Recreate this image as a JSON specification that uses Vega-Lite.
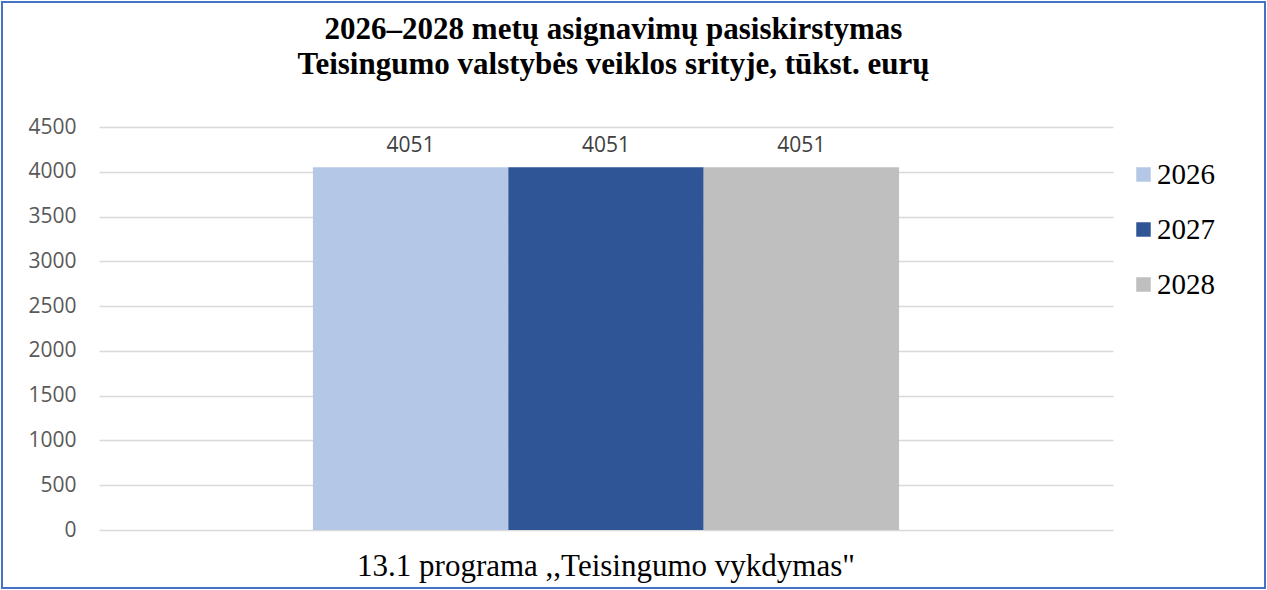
{
  "$schema": "https://vega.github.io/schema/vega-lite/v6.json",
  "width": 1263,
  "height": 586,
  "padding": 2,
  "autosize": {"type": "none"},
  "background": "white",
  "title": {
    "text": ["2026–2028 metų asignavimų pasiskirstymas", "Teisingumo valstybės veiklos srityje, tūkst. eurų"],
    "font": "Liberation Serif",
    "fontSize": 31,
    "fontWeight": "bold",
    "color": "#000000",
    "anchor": "middle",
    "frame": "group",
    "baseline": "top",
    "lineHeight": 35,
    "offset": -79,
    "dx": -20
  },
  "data": {
    "values": [
      {"programa": "13.1 programa ,,Teisingumo vykdymas\"", "metai": "2026", "suma": 4051},
      {"programa": "13.1 programa ,,Teisingumo vykdymas\"", "metai": "2027", "suma": 4051},
      {"programa": "13.1 programa ,,Teisingumo vykdymas\"", "metai": "2028", "suma": 4051}
    ]
  },
  "encoding": {
    "x": {
      "field": "programa",
      "type": "nominal",
      "scale": {"range": [97, 1111], "paddingInner": 0, "paddingOuter": 0.365},
      "axis": {
        "title": null,
        "orient": "bottom",
        "offset": -58,
        "domain": false,
        "ticks": false,
        "grid": false,
        "labelAngle": 0,
        "labelFont": "Liberation Serif",
        "labelFontSize": 31,
        "labelColor": "#000000",
        "labelPadding": 21,
        "labelLimit": 2000
      }
    },
    "xOffset": {
      "field": "metai",
      "type": "nominal",
      "scale": {"paddingInner": 0, "paddingOuter": 0}
    },
    "y": {
      "field": "suma",
      "type": "quantitative",
      "scale": {"domain": [0, 4500], "range": [528, 125], "nice": false, "zero": true},
      "axis": {
        "title": null,
        "values": [0, 500, 1000, 1500, 2000, 2500, 3000, 3500, 4000, 4500],
        "format": "d",
        "offset": -97,
        "domain": false,
        "ticks": false,
        "grid": true,
        "gridColor": "#D9D9D9",
        "gridWidth": 1.5,
        "labelFont": "Open Sans",
        "labelFontSize": 21,
        "labelColor": "#595959",
        "labelPadding": 23
      }
    }
  },
  "layer": [
    {
      "mark": {"type": "bar"},
      "encoding": {
        "color": {
          "field": "metai",
          "type": "nominal",
          "scale": {"domain": ["2026", "2027", "2028"], "range": ["#B4C7E7", "#2F5597", "#BFBFBF"]},
          "legend": {
            "title": null,
            "orient": "none",
            "legendX": 1127,
            "legendY": 158,
            "symbolType": "square",
            "symbolSize": 210,
            "symbolStrokeWidth": 0,
            "labelFont": "Liberation Serif",
            "labelFontSize": 29,
            "labelColor": "#000000",
            "labelOffset": -1,
            "rowPadding": 25
          }
        }
      }
    },
    {
      "mark": {"type": "text", "baseline": "middle", "dy": -21, "font": "Open Sans", "fontSize": 21, "color": "#404040"},
      "encoding": {
        "text": {"field": "suma", "type": "quantitative"}
      }
    }
  ],
  "config": {
    "view": {"stroke": "#4472C4", "strokeWidth": 2, "fill": "white"}
  }
}
